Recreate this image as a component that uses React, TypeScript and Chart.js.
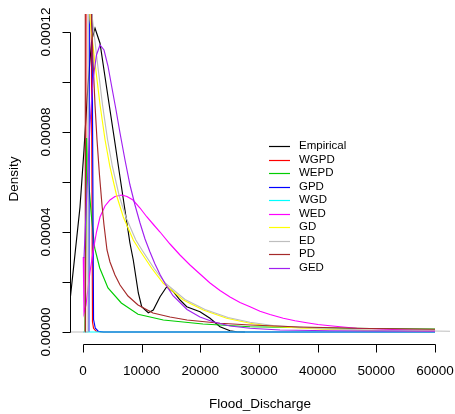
import React, { useEffect, useRef } from "react";
import { Chart, registerables } from "chart.js";

Chart.register(...registerables);

const xTicks = [0, 10000, 20000, 30000, 40000, 50000, 60000];
const yTicks = [0, 0.00002, 0.00004, 0.00006, 0.00008, 0.0001, 0.00012];
const yTickLabels = ["0.00000", "", "0.00004", "", "0.00008", "", "0.00012"];
const xTitle = "Flood_Discharge";
const yTitle = "Density";

const seriesNames = ["Empirical", "WGPD", "WEPD", "GPD", "WGD", "WED", "GD", "ED", "PD", "GED"];
const seriesColors = ["#000000", "#FF0000", "#00CD00", "#0000FF", "#00FFFF", "#FF00FF", "#FFFF00", "#BEBEBE", "#A52A2A", "#A020F0"];

const empiricalX = [-2200, -1360, -510, 170, 850, 1480, 2050, 2900, 3750, 4600, 5450, 6300, 7150, 8000, 8570, 9430, 10000, 11130, 11980, 13130, 14270, 15390, 16540, 17680, 19940, 21650, 23350, 25060, 26200, 27600];
const empiricalY = [1.28e-5, 3.12e-5, 5.0e-5, 7.28e-5, 9.88e-5, 1.168e-4, 1.215e-4, 1.155e-4, 1.021e-4, 8.88e-5, 7.56e-5, 6.21e-5, 4.88e-5, 3.56e-5, 2.88e-5, 1.56e-5, 1.01e-5, 7.7e-6, 8.8e-6, 1.41e-5, 1.81e-5, 1.61e-5, 1.28e-5, 1.01e-5, 8.1e-6, 5.5e-6, 2.1e-6, 5e-7, 1e-7, 0];

const wgpdX = [430, 630, 1250, 1620, 1800, 2200, 3000, 60000];
const wgpdY = [0, 3.0e-4, 2.2e-4, 4e-6, 1.5e-6, 4e-7, 0, 0];

const wepdX = [340, 630, 940, 1415, 1990, 2850, 4260, 6530, 9380, 13690, 20450, 28470, 38700, 48920, 60000];
const wepdY = [0, 7.76e-5, 6.08e-5, 4.68e-5, 3.36e-5, 2.56e-5, 1.76e-5, 1.16e-5, 7.1e-6, 4.8e-6, 3.2e-6, 2.1e-6, 1.7e-6, 1.4e-6, 1.2e-6];

const gpdX = [1000, 1200, 1380, 1800, 2100, 2600, 3500, 60000];
const gpdY = [0, 3e-4, 2.0e-4, 5e-6, 1.5e-6, 3e-7, 0, 0];

const wgdX = [0, 60000];
const wgdY = [0, 0];

const wedX = [50, 170, 510, 1190, 1760, 2300, 2900, 3750, 4600, 5450, 6600, 7500, 8520, 9720, 10860, 11930, 13130, 14830, 16530, 18240, 19940, 21650, 23350, 25060, 26760, 28470, 30170, 31870, 34140, 36140, 38130, 40060, 42100, 44320, 46650, 51140, 55740, 60000];
const wedY = [3.0e-5, 7.6e-6, 1.08e-5, 2.4e-5, 3.28e-5, 4.0e-5, 4.6e-5, 5.04e-5, 5.28e-5, 5.42e-5, 5.48e-5, 5.42e-5, 5.28e-5, 4.96e-5, 4.61e-5, 4.32e-5, 4.0e-5, 3.52e-5, 3.08e-5, 2.68e-5, 2.32e-5, 1.96e-5, 1.66e-5, 1.4e-5, 1.18e-5, 1.01e-5, 8.3e-6, 7.0e-6, 5.5e-6, 4.5e-6, 3.7e-6, 3.0e-6, 2.5e-6, 2.0e-6, 1.5e-6, 1.1e-6, 8e-7, 6e-7];

const gdX = [100, 700, 1190, 2050, 2900, 3750, 4600, 5740, 6870, 8570, 9720, 11710, 13690, 17100, 20500, 24490, 28470, 32390, 40910, 50620, 60000];
const gdY = [6e-4, 1.6e-4, 1.25e-4, 1.075e-4, 9.1e-5, 7.7e-5, 6.6e-5, 5.45e-5, 4.6e-5, 3.68e-5, 3.25e-5, 2.55e-5, 1.95e-5, 1.28e-5, 8.8e-6, 5.5e-6, 3.5e-6, 2.2e-6, 1.1e-6, 6e-7, 4e-7];

const edX = [-2215, 850, 850, 1620, 2470, 3320, 4180, 5030, 6170, 7300, 9000, 10140, 12100, 14060, 17390, 20800, 24720, 28470, 32390, 40910, 50620, 62555];
const edY = [0, 0, 1.5e-4, 1.25e-4, 1.075e-4, 9.1e-5, 7.7e-5, 6.6e-5, 5.45e-5, 4.6e-5, 3.68e-5, 3.25e-5, 2.55e-5, 1.95e-5, 1.3e-5, 9e-6, 5.8e-6, 3.9e-6, 2.6e-6, 1.3e-6, 7e-7, 3e-7];

const pdX = [390, 392, 900, 1450, 1700, 2050, 2390, 2810, 3240, 3580, 4090, 4600, 5450, 6310, 7670, 9380, 11930, 14830, 17730, 23350, 28470, 36990, 48920, 60000];
const pdY = [0, 6e-4, 2.4e-4, 1.272e-4, 1.088e-4, 9.08e-5, 7.68e-5, 6.28e-5, 5.08e-5, 4.28e-5, 3.28e-5, 2.8e-5, 2.28e-5, 1.88e-5, 1.44e-5, 1.08e-5, 7.6e-6, 6.0e-6, 4.8e-6, 3.48e-6, 2.8e-6, 2.0e-6, 1.4e-6, 1.08e-6];

const gedX = [170, 680, 1190, 1700, 2300, 2900, 3580, 4260, 4940, 5630, 6310, 7160, 8010, 8860, 9720, 10570, 11420, 12270, 13130, 13980, 15340, 17730, 19940, 22160, 25060, 28470, 33580, 42100, 60000];
const gedY = [2.96e-5, 5.68e-5, 8.28e-5, 1.008e-4, 1.108e-4, 1.148e-4, 1.128e-4, 1.064e-4, 9.76e-5, 8.88e-5, 7.96e-5, 6.88e-5, 5.88e-5, 5.08e-5, 4.36e-5, 3.72e-5, 3.2e-5, 2.72e-5, 2.3e-5, 1.94e-5, 1.45e-5, 9.0e-6, 6.0e-6, 4.1e-6, 2.4e-6, 1.5e-6, 8e-7, 5e-7, 3e-7];

const seriesX = [empiricalX, wgpdX, wepdX, gpdX, wgdX, wedX, gdX, edX, pdX, gedX];
const seriesY = [empiricalY, wgpdY, wepdY, gpdY, wgdY, wedY, gdY, edY, pdY, gedY];

const X_MIN = -2215;
const X_MAX = 62555;
const Y_MIN = -4.8e-6;
const Y_MAX = 1.272e-4;

const FONT = '"Liberation Sans", Arial, Helvetica, sans-serif';

const rAxesPlugin = {
  id: "rAxes",
  afterDraw(chart: any) {
    const ctx = chart.ctx;
    const xs = chart.scales.x;
    const ys = chart.scales.y;
    const area = chart.chartArea;
    ctx.save();
    ctx.strokeStyle = "#000";
    ctx.fillStyle = "#000";
    ctx.lineWidth = 1;

    // x axis
    const yAx = Math.round(area.bottom) + 0.5;
    const xa = Math.round(xs.getPixelForValue(xTicks[0])) + 0.5;
    const xb = Math.round(xs.getPixelForValue(xTicks[xTicks.length - 1])) + 0.5;
    ctx.beginPath();
    ctx.moveTo(xa, yAx);
    ctx.lineTo(xb, yAx);
    xTicks.forEach((t) => {
      const px = Math.round(xs.getPixelForValue(t)) + 0.5;
      ctx.moveTo(px, yAx);
      ctx.lineTo(px, yAx + 8);
    });
    ctx.stroke();
    ctx.font = "13.5px " + FONT;
    ctx.textAlign = "center";
    ctx.textBaseline = "middle";
    xTicks.forEach((t) => {
      ctx.fillText(String(t), xs.getPixelForValue(t), 371);
    });

    // y axis
    const xAx = Math.round(area.left) + 0.5;
    const ya = Math.round(ys.getPixelForValue(yTicks[0])) + 0.5;
    const yb = Math.round(ys.getPixelForValue(yTicks[yTicks.length - 1])) + 0.5;
    ctx.beginPath();
    ctx.moveTo(xAx, ya);
    ctx.lineTo(xAx, yb);
    yTicks.forEach((t) => {
      const py = Math.round(ys.getPixelForValue(t)) + 0.5;
      ctx.moveTo(xAx, py);
      ctx.lineTo(xAx - 8, py);
    });
    ctx.stroke();
    yTicks.forEach((t, i) => {
      const lab = yTickLabels[i];
      if (!lab) return;
      ctx.save();
      ctx.translate(46, ys.getPixelForValue(t));
      ctx.rotate(-Math.PI / 2);
      ctx.fillText(lab, 0, 0);
      ctx.restore();
    });

    // titles
    ctx.fillText(xTitle, (area.left + area.right) / 2, 404);
    ctx.save();
    ctx.translate(14, (area.top + area.bottom) / 2);
    ctx.rotate(-Math.PI / 2);
    ctx.fillText(yTitle, 0, 0);
    ctx.restore();

    // legend
    ctx.font = "11.5px " + FONT;
    ctx.textAlign = "left";
    chart.data.datasets.forEach((ds: any, i: number) => {
      const ry = 146 + i * 13.5;
      ctx.beginPath();
      ctx.strokeStyle = ds.borderColor;
      ctx.lineWidth = 1.2;
      ctx.moveTo(269, Math.round(ry) + 0.5);
      ctx.lineTo(290, Math.round(ry) + 0.5);
      ctx.stroke();
      ctx.fillStyle = "#000";
      ctx.fillText(ds.label, 299, ry);
    });
    ctx.restore();
  },
};

export default function App() {
  const ref = useRef<HTMLCanvasElement | null>(null);
  useEffect(() => {
    if (!ref.current) return;
    const datasets = seriesNames.map((name, i) => ({
      label: name,
      data: seriesX[i].map((x, j) => ({ x, y: seriesY[i][j] })),
      borderColor: seriesColors[i],
      backgroundColor: seriesColors[i],
      borderWidth: 1.15,
      pointRadius: 0,
      fill: false,
      tension: 0,
      order: seriesNames.length - i,
    }));
    const chart = new Chart(ref.current, {
      type: "line",
      data: { datasets },
      options: {
        animation: false,
        responsive: false,
        devicePixelRatio: 1,
        layout: { padding: { left: 70, right: 5, top: 14, bottom: 70 } },
        scales: {
          x: { type: "linear", min: X_MIN, max: X_MAX, display: false },
          y: { type: "linear", min: Y_MIN, max: Y_MAX, display: false },
        },
        plugins: { legend: { display: false }, tooltip: { enabled: false } },
      },
      plugins: [rAxesPlugin],
    } as any);
    return () => chart.destroy();
  }, []);
  return (
    <div style={{ position: "absolute", left: 0, top: 0, width: 455, height: 414, background: "#fff" }}>
      <canvas ref={ref} width={455} height={414} />
    </div>
  );
}
